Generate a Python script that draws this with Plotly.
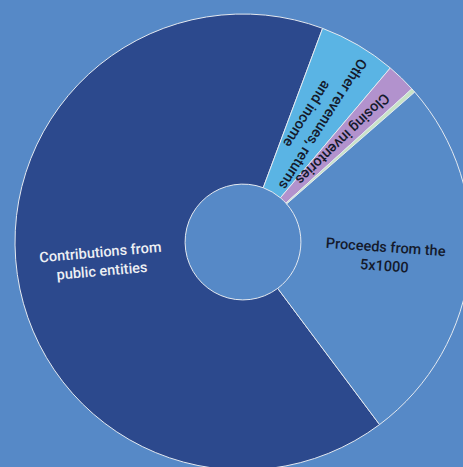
import math
import plotly.graph_objects as go

# ---- data ----
labels = [
    "Contributions from public entities",
    "Other revenues, returns and income",
    "Closing inventories",
    "Other items",
    "Proceeds from the 5x1000",
]
values = [65.9, 5.5, 2.1, 0.3, 26.2]
label_text = [
    "Contributions from<br>public entities",
    "Other revenues, returns<br>and income",
    "Closing inventories",
    "",
    "Proceeds from the<br>5x1000",
]

# ---- styles ----
colors = ["#2c498d", "#5ab4e4", "#b292cd", "#c9e3c6", "#578bc8"]
text_colors = ["#eef0f4", "#141a2c", "#141a2c", "#141a2c", "#141a2c"]
text_tilt = [-5, 2, 2, 0, 4]
radial = [False, True, True, False, False]
bg = "#5689c7"

W, H = 486, 484
start_angle = 143.2
hole = 0.254
dom_x = [15 / W, 471 / W]
dom_y = [14 / H, 470 / H]

fig = go.Figure(
    go.Pie(
        labels=labels,
        values=values,
        sort=False,
        direction="clockwise",
        rotation=start_angle,
        hole=hole,
        textinfo="none",
        marker=dict(colors=colors, line=dict(color="#e4e9f0", width=1)),
        domain=dict(x=dom_x, y=dom_y),
        showlegend=False,
    )
)

# label placement derived from the pie geometry and data
cx = (dom_x[0] + dom_x[1]) / 2 * W
cy = (1 - (dom_y[0] + dom_y[1]) / 2) * H
R = min((dom_x[1] - dom_x[0]) * W, (dom_y[1] - dom_y[0]) * H) / 2
rm = R * (1 + hole) / 2
total = sum(values)
cum = start_angle
annotations = []
for i, v in enumerate(values):
    span = v / total * 360
    mid = cum + span / 2
    cum += span
    if not label_text[i]:
        continue
    a = math.radians(mid)
    px = cx + rm * math.sin(a)
    py = cy - rm * math.cos(a)
    ang = ((mid % 360) + 90 if radial[i] else 0) + text_tilt[i]
    annotations.append(
        dict(
            x=px / W,
            y=1 - py / H,
            xref="paper",
            yref="paper",
            text=label_text[i],
            showarrow=False,
            xanchor="center",
            yanchor="middle",
            align="center",
            textangle=ang,
            font=dict(family="Roboto, Arial, sans-serif", size=14.5,
                      color=text_colors[i], weight=500),
        )
    )

fig.update_layout(
    width=W,
    height=H,
    margin=dict(l=0, r=0, t=0, b=0),
    paper_bgcolor=bg,
    plot_bgcolor=bg,
    annotations=annotations,
)

fig.write_html(
    "out.html",
    config={"displayModeBar": False},
    post_script="document.body.style.margin='0';document.body.style.overflow='hidden';document.documentElement.style.overflow='hidden';",
)
